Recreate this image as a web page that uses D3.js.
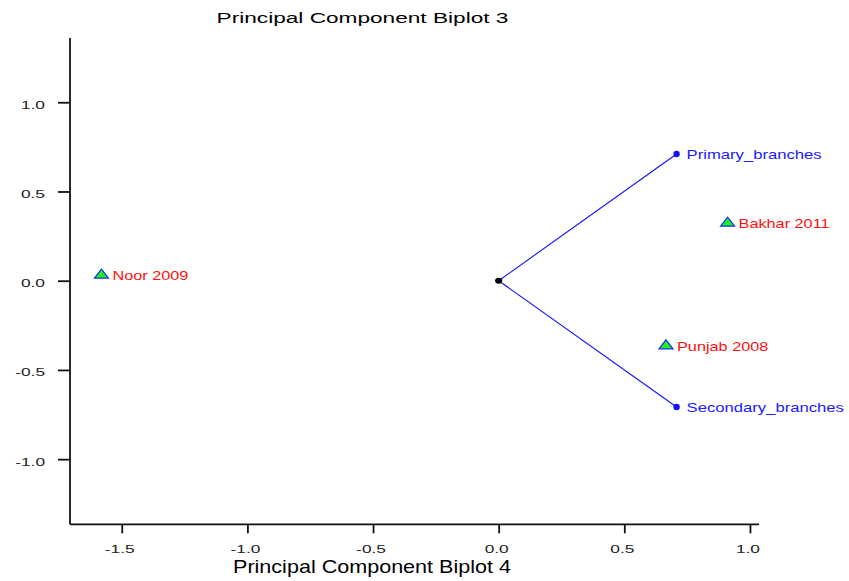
<!DOCTYPE html>
<html>
<head>
<meta charset="utf-8">
<script src="https://cdn.jsdelivr.net/npm/d3@7"></script>
<style>
  html, body { margin: 0; padding: 0; background: #fff; }
  svg { display: block; font-family: Arial, "Liberation Sans", sans-serif; }
</style>
</head>
<body>
<svg id="chart" width="849" height="581"></svg>
<script>
// ---- data ----
const titleText = "Principal Component Biplot 3";
const xLabelText = "Principal Component Biplot 4";
const xTicks = [-1.5, -1.0, -0.5, 0.0, 0.5, 1.0];
const yTicks = [1.0, 0.5, 0.0, -0.5, -1.0];
const obsNames = ["Noor 2009", "Bakhar 2011", "Punjab 2008"];
const obsX = [-1.581, 0.911, 0.666];
const obsY = [0.038, 0.329, -0.358];
const varNames = ["Primary_branches", "Secondary_branches"];
const varX = [0.708, 0.708];
const varY = [0.710, -0.708];

// ---- layout ----
const svg = d3.select("#chart");
const x = d3.scaleLinear().domain([-1.706, 1.036]).range([70, 759]);
const y = d3.scaleLinear().domain([-1.365, 1.36]).range([524.3, 38]);
const fmt = d => (d < 0 ? "-" : "") + Math.abs(d).toFixed(1);

function stretch(sel, k) {
  sel.each(function () {
    const w = this.getComputedTextLength();
    this.setAttribute("textLength", w * k);
    this.setAttribute("lengthAdjust", "spacingAndGlyphs");
  });
}

// axes
const axisColor = "#111";
const xAxis = svg.append("g").attr("transform", `translate(0,${y.range()[0]})`)
  .call(d3.axisBottom(x).tickValues(xTicks).tickSize(9).tickFormat(fmt));
xAxis.select(".domain").attr("d", `M${x.range()[0]},0H${x.range()[1]}`).attr("stroke", axisColor).attr("stroke-width", 1.8);
xAxis.selectAll(".tick line").attr("stroke", axisColor).attr("stroke-width", 1.8);
xAxis.selectAll(".tick text")
  .attr("font-family", 'Arial, "Liberation Sans", sans-serif')
  .attr("font-size", 10.5).attr("fill", "#222").attr("y", 0).attr("dy", null)
  .attr("transform", "translate(-2.5,29)")
  .call(stretch, 1.65);

const yAxis = svg.append("g").attr("transform", `translate(${x.range()[0]},0)`)
  .call(d3.axisLeft(y).tickValues(yTicks).tickSize(12).tickFormat(fmt));
yAxis.select(".domain").attr("d", `M0,${y.range()[1]}V${y.range()[0]}`).attr("stroke", axisColor).attr("stroke-width", 1.8);
yAxis.selectAll(".tick line").attr("stroke", axisColor).attr("stroke-width", 1.8);
yAxis.selectAll(".tick text")
  .attr("font-family", 'Arial, "Liberation Sans", sans-serif')
  .attr("font-size", 10.5).attr("fill", "#222").attr("x", -25).attr("dy", null).attr("y", 6)
  .call(stretch, 1.65);

// titles
svg.append("text").attr("x", 362.5).attr("y", 23.3).attr("text-anchor", "middle")
  .attr("font-size", 15.5).attr("fill", "#000").text(titleText).call(stretch, 1.46);
svg.append("text").attr("x", 372).attr("y", 572.5).attr("text-anchor", "middle")
  .attr("font-size", 18.5).attr("fill", "#000").text(xLabelText).call(stretch, 1.165);

// variable vectors
const vars = varNames.map((n, i) => ({ name: n, x: varX[i], y: varY[i] }));
svg.append("g").selectAll("line").data(vars).join("line")
  .attr("x1", x(0)).attr("y1", y(0)).attr("x2", d => x(d.x)).attr("y2", d => y(d.y))
  .attr("stroke", "#1010ff").attr("stroke-width", 1.1);
svg.append("g").selectAll("circle").data(vars).join("circle")
  .attr("cx", d => x(d.x)).attr("cy", d => y(d.y)).attr("r", 3.2).attr("fill", "#1010ff");
svg.append("g").selectAll("text").data(vars).join("text")
  .attr("x", d => x(d.x) + 10).attr("y", d => y(d.y) + 5)
  .attr("font-size", 13).attr("fill", "#1a1aff").text(d => d.name).call(stretch, 1.28);

// origin
svg.append("ellipse").attr("cx", x(0)).attr("cy", y(0)).attr("rx", 3.6).attr("ry", 3).attr("fill", "#000");

// observations
const obs = obsNames.map((n, i) => ({ name: n, x: obsX[i], y: obsY[i] }));
const tri = "M0,-4.8L7,4.2L-7,4.2Z";
svg.append("g").selectAll("path").data(obs).join("path")
  .attr("transform", d => `translate(${x(d.x)},${y(d.y)})`)
  .attr("d", tri).attr("fill", "#22ee22").attr("stroke", "#1030ee").attr("stroke-width", 1.2)
  .attr("stroke-linejoin", "miter");
svg.append("g").selectAll("text").data(obs).join("text")
  .attr("x", d => x(d.x) + 11).attr("y", d => y(d.y) + 6)
  .attr("font-size", 13).attr("fill", "#ff1010").text(d => d.name).call(stretch, 1.25);
</script>
</body>
</html>
